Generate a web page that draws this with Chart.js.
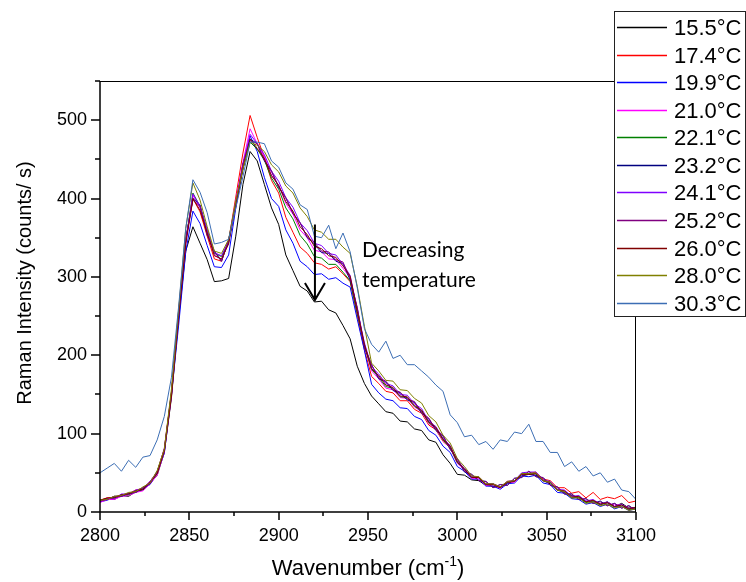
<!DOCTYPE html>
<html>
<head>
<meta charset="utf-8">
<script src="https://cdn.jsdelivr.net/npm/chart.js@4.4.1/dist/chart.umd.min.js"></script>
<style>
  html, body { margin: 0; padding: 0; background: #fff; }
  #c { display: block; }
</style>
</head>
<body>
<canvas id="c" width="746" height="582"></canvas>
<script>
// wavenumbers (cm-1), one point every 4 cm-1
const wavenumbers = [2800,2804,2808,2812,2816,2820,2824,2828,2832,2836,2840,2844,2848,2852,2856,2860,2864,2868,2872,2876,
  2880,2884,2888,2892,2896,2900,2904,2908,2912,2916,2920,2924,2928,2932,2936,2940,2944,2948,2952,2956,
  2960,2964,2968,2972,2976,2980,2984,2988,2992,2996,3000,3004,3008,3012,3016,3020,3024,3028,3032,3036,
  3040,3044,3048,3052,3056,3060,3064,3068,3072,3076,3080,3084,3088,3092,3096,3100];

const temperatures = ['15.5°C','17.4°C','19.9°C','21.0°C','22.1°C','23.2°C','24.1°C','25.2°C','26.0°C','28.0°C','30.3°C'];
const colors = ['#000000','#ff0000','#0000ff','#ff00ff','#008000','#000080','#8000ff','#800080','#800000','#808000','#3c6eb4'];

// intensities (counts/s)
const t155 = [14,17,16,21,20,26,28,36,47,76, 146,247,333,364,343,322,294,295,298,352, 418,460,448,418,388,367,328,308,288,282,
  268,269,258,254,238,221,186,164,148,138, 128,126,116,115,106,104,92,89,73,62, 48,47,41,40,34,33,31,37,39,46,
  48,47,40,36,28,25,21,18,13,14, 10,13,7,11,5,6];
const t174 = [15,18,19,22,23,28,30,39,51,81, 153,257,348,400,383,352,323,320,346,402, 458,506,478,452,423,407,376,357,338,330,
  318,316,310,313,304,294,250,207,173,164, 154,152,142,142,131,126,111,105,90,82, 63,55,45,45,36,36,32,39,40,49,
  49,51,42,40,31,31,24,26,18,25, 16,19,17,21,12,14];
const t199 = [13,15,19,20,23,25,30,35,50,75, 150,238,332,384,368,340,313,312,328,388, 438,480,460,427,400,390,360,343,320,313,
  303,304,297,299,292,287,246,206,163,152, 144,142,133,132,122,118,104,98,84,76, 58,52,42,42,33,33,29,36,37,46,
  45,47,37,35,25,24,17,16,10,12, 7,10,4,7,2,4];
const t210 = [12,16,16,20,21,25,27,36,47,77, 148,254,343,404,388,358,328,322,344,397, 446,489,470,454,430,417,394,380,360,350,
  334,332,323,322,311,299,253,212,180,170, 158,156,146,145,134,128,113,106,91,82, 62,54,43,43,34,35,30,38,38,48,
  49,49,40,38,28,27,19,20,13,14, 10,11,9,9,4,5];
const t221 = [14,17,18,22,22,27,29,38,49,79, 150,254,346,407,390,360,330,326,344,394, 438,472,463,449,426,412,388,374,353,342,
  326,324,316,316,306,295,253,212,182,172, 160,158,147,146,135,129,114,107,92,82, 63,55,44,44,35,36,31,38,40,49,
  49,49,40,38,28,26,18,19,12,14, 9,12,6,9,3,5];
const t232 = [15,16,20,20,24,25,31,36,52,78, 153,248,348,400,392,354,333,320,347,390, 444,476,470,448,435,414,401,381,369,350,
  342,331,330,320,317,296,260,210,188,170, 166,155,152,143,140,126,119,104,97,80, 68,51,48,40,39,31,35,34,43,44,
  52,45,44,34,32,23,23,16,17,11, 14,8,11,5,8,2];
const t241 = [13,17,17,23,23,28,30,39,51,81, 150,254,345,406,390,360,331,327,346,396, 443,482,470,456,435,422,401,389,369,359,
  343,340,330,328,316,302,258,216,185,176, 164,161,150,149,138,132,116,109,94,85, 65,56,45,45,36,36,32,39,40,50,
  51,51,41,39,29,28,20,21,14,16, 10,13,7,10,4,6];
const t252 = [14,16,20,20,24,25,31,36,51,77, 152,248,347,398,390,353,332,320,347,390, 444,474,470,449,435,415,401,381,369,351,
  344,333,332,322,319,298,261,211,188,171, 167,156,153,144,141,127,120,105,98,80, 68,52,48,40,39,31,35,34,43,44,
  52,45,44,34,32,23,23,16,17,11, 13,8,11,5,8,2];
const t260 = [15,18,18,22,23,27,29,38,49,79, 148,251,342,400,385,356,327,323,342,393, 438,476,464,451,429,417,396,384,364,354,
  339,336,327,325,314,301,256,214,183,174, 162,159,148,147,136,130,115,108,93,84, 64,55,44,44,35,35,31,38,39,48,
  48,49,40,38,28,27,19,20,13,15, 10,12,7,9,4,6];
const t280 = [15,16,20,21,25,26,32,37,53,80, 157,258,362,420,398,364,333,330,348,397, 438,472,468,460,443,434,416,407,388,377,
  360,357,348,348,338,330,288,237,190,180, 168,167,156,155,145,139,123,115,98,88, 68,58,46,45,36,36,32,39,40,49,
  49,50,40,38,28,26,18,18,11,13, 8,10,5,7,2,4];
const t303 = [50,56,62,52,66,57,70,72,92,122, 172,262,362,424,408,382,342,344,348,388, 428,472,472,470,448,440,420,412,392,386,
  352,350,366,336,356,332,286,234,214,204, 218,196,200,188,188,180,172,162,154,124, 114,96,98,86,90,80,92,90,102,100,
  112,90,90,76,76,58,64,52,58,46, 50,38,42,28,26,16];

const series = [t155, t174, t199, t210, t221, t232, t241, t252, t260, t280, t303];

const xMinor = [2825, 2875, 2925, 2975, 3025, 3075];
const yMinor = [50, 150, 250, 350, 450, 550];

const datasets = series.map((vals, i) => ({
  label: temperatures[i],
  data: vals.map((v, j) => ({ x: wavenumbers[j], y: v })),
  borderColor: colors[i],
  borderWidth: 1,
  pointRadius: 0,
  tension: 0,
  fill: false,
  order: series.length - i
}));

const FONT = '"Liberation Sans", Arial, sans-serif';

// cadre, graduations secondaires, titres, annotation
const decor = {
  id: 'decor',
  afterDatasetsDraw(chart) {
    const { ctx, chartArea: a, scales: { x, y } } = chart;
    ctx.save();
    ctx.strokeStyle = '#000';
    ctx.lineWidth = 1;
    ctx.beginPath();
    ctx.moveTo(a.left, a.top + 0.5); ctx.lineTo(a.right, a.top + 0.5);
    ctx.moveTo(a.right - 0.5, a.top); ctx.lineTo(a.right - 0.5, a.bottom);
    ctx.stroke();

    ctx.lineWidth = 1.5;
    ctx.beginPath();
    ctx.moveTo(a.left, a.top); ctx.lineTo(a.left, a.bottom); ctx.lineTo(a.right, a.bottom);
    x.ticks.forEach(t => { const px = Math.round(x.getPixelForValue(t.value)); ctx.moveTo(px, a.bottom); ctx.lineTo(px, a.bottom + 8); });
    y.ticks.forEach(t => { const py = Math.round(y.getPixelForValue(t.value)); ctx.moveTo(a.left, py); ctx.lineTo(a.left - 9, py); });
    xMinor.forEach(v => { const px = Math.round(x.getPixelForValue(v)); ctx.moveTo(px, a.bottom); ctx.lineTo(px, a.bottom + 4); });
    yMinor.forEach(v => { const py = Math.round(y.getPixelForValue(v)); ctx.moveTo(a.left, py); ctx.lineTo(a.left - 5, py); });
    ctx.stroke();

    // axis titles
    ctx.fillStyle = '#000';
    ctx.textBaseline = 'alphabetic';
    const main = 'Wavenumber (cm';
    const sup = '-1';
    ctx.font = '22px ' + FONT;
    const w1 = ctx.measureText(main).width;
    const w3 = ctx.measureText(')').width;
    ctx.font = '14px ' + FONT;
    const w2 = ctx.measureText(sup).width;
    const tx = (a.left + a.right) / 2 - (w1 + w2 + w3) / 2;
    ctx.textAlign = 'left';
    ctx.font = '22px ' + FONT;
    ctx.fillText(main, tx, 575);
    ctx.font = '14px ' + FONT;
    ctx.fillText(sup, tx + w1, 566);
    ctx.font = '22px ' + FONT;
    ctx.fillText(')', tx + w1 + w2, 575);

    ctx.save();
    ctx.translate(31, 283);
    ctx.rotate(-Math.PI / 2);
    ctx.textAlign = 'center';
    ctx.font = '20px ' + FONT;
    ctx.fillText('Raman Intensity (counts/ s)', 0, 0);
    ctx.restore();

    // "Decreasing temperature" arrow
    const ax = x.getPixelForValue(2920.3);
    const top = y.getPixelForValue(367);
    const tip = y.getPixelForValue(270.5);
    ctx.lineWidth = 2;
    ctx.beginPath();
    ctx.moveTo(ax, top); ctx.lineTo(ax, tip);
    ctx.moveTo(ax - 10, tip - 17); ctx.lineTo(ax, tip); ctx.lineTo(ax + 10, tip - 17);
    ctx.stroke();
    ctx.font = '21px Lato, "Noto Sans", sans-serif';
    ctx.textAlign = 'left';
    ctx.fillText('Decreasing', x.getPixelForValue(2946.6), y.getPixelForValue(325.6));
    ctx.fillText('temperature', x.getPixelForValue(2946.6), y.getPixelForValue(286.8));
    ctx.restore();
  },
  afterDraw(chart) {
    const { ctx } = chart;
    ctx.save();
    ctx.fillStyle = '#fff';
    ctx.fillRect(614, 11, 131, 305);
    ctx.strokeStyle = '#222';
    ctx.lineWidth = 1;
    ctx.strokeRect(614.5, 11.5, 131, 305);
    ctx.font = '22px ' + FONT;
    ctx.textBaseline = 'middle';
    ctx.textAlign = 'left';
    chart.data.datasets.forEach((ds, i) => {
      const ly = Math.round(27 + i * 27.57) + 0.5;
      ctx.strokeStyle = ds.borderColor;
      ctx.lineWidth = 1.5;
      ctx.beginPath();
      ctx.moveTo(617, ly); ctx.lineTo(667, ly);
      ctx.stroke();
      ctx.fillStyle = '#000';
      ctx.fillText(ds.label, 674, ly + 1);
    });
    ctx.restore();
  }
};

new Chart(document.getElementById('c'), {
  type: 'line',
  data: { datasets },
  options: {
    responsive: false,
    animation: false,
    events: [],
    layout: { padding: { left: 0, top: 81, right: 110, bottom: 0 } },
    plugins: { legend: { display: false }, tooltip: { enabled: false } },
    scales: {
      x: {
        type: 'linear',
        min: 2800,
        max: 3100,
        afterFit: s => { s.height = 70; },
        grid: { display: false, drawTicks: false },
        border: { display: false },
        ticks: { stepSize: 50, padding: 13, color: '#000', font: { family: FONT, size: 18 }, callback: v => String(v) }
      },
      y: {
        min: 0,
        max: 550,
        afterFit: s => { s.width = 100; },
        grid: { display: false, drawTicks: false },
        border: { display: false },
        ticks: { stepSize: 100, includeBounds: false, padding: 13, color: '#000', font: { family: FONT, size: 18 }, callback: v => String(v) }
      }
    }
  },
  plugins: [decor]
});
</script>
</body>
</html>
